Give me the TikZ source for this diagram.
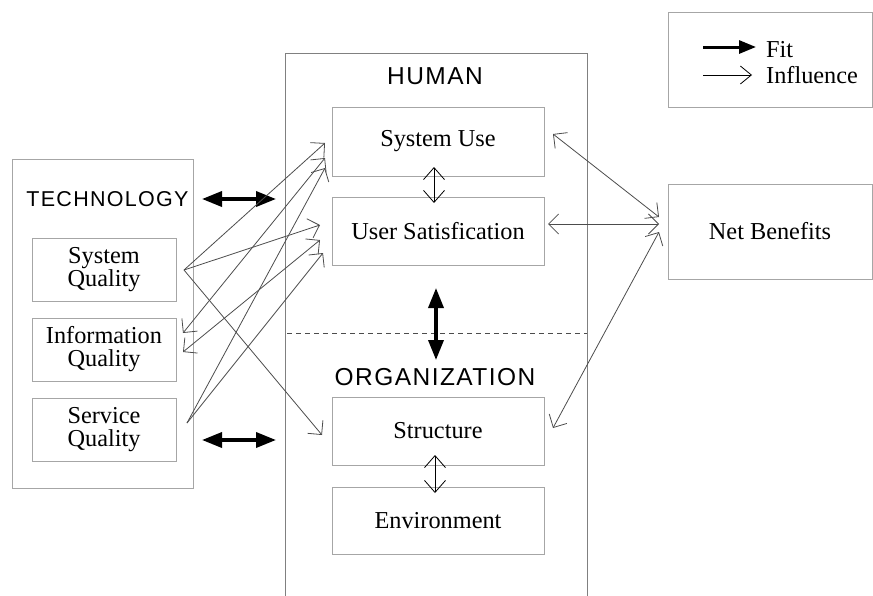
\documentclass[tikz,border=0pt]{standalone}
\usepackage{fontspec}
\setmainfont{Liberation Serif}
\newfontfamily\titlefont[LetterSpace=6]{Liberation Sans}
\usetikzlibrary{arrows.meta}
\tikzset{
  box/.style={draw=black!35, line width=0.9pt, inner sep=0pt, align=center,
    font=\fontsize{24.3}{23}\selectfont},
  ttl/.style={inner sep=0pt, font=\titlefont\fontsize{24.5}{26}\selectfont},
  fitarr/.style={line width=3.5pt, black, {Triangle[length=20pt,width=15pt]}-{Triangle[length=20pt,width=15pt]}},
  infl/.style={line width=0.8pt, black!70, -{Straight Barb[length=10pt,width=20pt]}},
  inflb/.style={line width=0.8pt, black!70, {Straight Barb[length=10pt,width=20pt]}-{Straight Barb[length=10pt,width=20pt]}},
  openarr/.style={line width=0.8pt, black, {Straight Barb[length=12pt,width=21pt]}-{Straight Barb[length=12pt,width=21pt]}},
}
\begin{document}
\begin{tikzpicture}[x=1pt,y=-1pt]
\useasboundingbox (0,0) rectangle (873,595);

% containers
\node[box, minimum width=181pt, minimum height=329pt] (tech) at (102.5,323.5) {};
\draw[black!50, line width=0.9pt] (285,596) -- (285,53) -- (587,53) -- (587,596);
\coordinate (dl) at (287,333);
\coordinate (dr) at (587,333);
\draw[black!70, line width=0.7pt, dash pattern=on 5pt off 4pt] (dl) -- (dr);

% titles
\node[ttl, font=\titlefont\fontsize{21.5}{24}\selectfont] (ttech) at (107.5,199) {TECHNOLOGY};
\node[ttl] (thum) at (435,76) {HUMAN};
\node[ttl] (torg) at (435,377) {ORGANIZATION};

% technology boxes
\node[box, minimum width=144pt, minimum height=63pt] (sq) at (104,269.5) {System\\Quality};
\node[box, minimum width=144pt, minimum height=63pt] (iq) at (104,349.5) {Information\\Quality};
\node[box, minimum width=144pt, minimum height=63pt] (svq) at (104,429.5) {Service\\Quality};

% human / organization boxes
\node[box, minimum width=212pt, minimum height=69pt] (su) at (438,141.5) {System Use};
\node[box, minimum width=212pt, minimum height=68pt] (us) at (438,231) {User Satisfication};
\node[box, minimum width=212pt, minimum height=68pt] (st) at (438,431) {Structure};
\node[box, minimum width=212pt, minimum height=67pt] (env) at (438,520.5) {Environment};

% net benefits and legend
\node[box, minimum width=204pt, minimum height=95pt] (nb) at (770,231.5) {Net Benefits};
\node[box, minimum width=204pt, minimum height=95pt] (leg) at (770,59.5) {};

% fit arrows
\coordinate (f1a) at (202,199);
\coordinate (f1b) at (276,199);
\draw[fitarr] (f1a) -- (f1b);
\coordinate (f2a) at (202,440);
\coordinate (f2b) at (276,440);
\draw[fitarr] (f2a) -- (f2b);
\coordinate (f3a) at (436,288);
\coordinate (f3b) at (436,360);
\draw[fitarr] (f3a) -- (f3b);

% open double arrows
\coordinate (o1a) at (434,167);
\coordinate (o1b) at (434,203);
\draw[openarr] (o1a) -- (o1b);
\coordinate (o2a) at (435,455);
\coordinate (o2b) at (435,493);
\draw[openarr] (o2a) -- (o2b);

% influence arrows (left)
\coordinate (psq) at (184,270);
\coordinate (piq1) at (183,333);
\coordinate (piq2) at (183,352);
\coordinate (psv) at (187,423);
\coordinate (su1) at (325,143);
\coordinate (su2) at (325,158);
\coordinate (su3) at (325,168);
\coordinate (us1) at (320,225);
\coordinate (us2) at (320,240);
\coordinate (us3) at (323,253);
\coordinate (st1) at (322,435);
\draw[infl] (psq) -- (su1);
\draw[infl] (psq) -- (us1);
\draw[infl] (psq) -- (st1);
\draw[inflb] (piq1) -- (su2);
\draw[inflb] (piq2) -- (us2);
\draw[infl] (psv) -- (su3);
\draw[infl] (psv) -- (us3);

% influence arrows (right)
\coordinate (rsu) at (553,134);
\coordinate (rus) at (548,224);
\coordinate (rst) at (553,428);
\coordinate (nb1) at (659,217);
\coordinate (nb2) at (659,224);
\coordinate (nb3) at (659,232);
\draw[inflb] (rsu) -- (nb1);
\draw[inflb] (rus) -- (nb2);
\draw[inflb] (rst) -- (nb3);

% legend
\coordinate (la) at (703,47);
\coordinate (lb) at (756,47);
\draw[line width=3pt, black, -{Triangle[length=17pt,width=13pt]}] (la) -- (lb);
\node[anchor=base west, inner sep=0pt, font=\fontsize{24.3}{26}\selectfont] (lfit) at (766,57) {Fit};
\coordinate (lc) at (703,75);
\coordinate (ld) at (752,75);
\draw[line width=0.8pt, black, -{Straight Barb[length=11pt,width=18pt]}] (lc) -- (ld);
\node[anchor=base west, inner sep=0pt, font=\fontsize{24.3}{26}\selectfont] (linf) at (766,83) {Influence};
\end{tikzpicture}
\end{document}
